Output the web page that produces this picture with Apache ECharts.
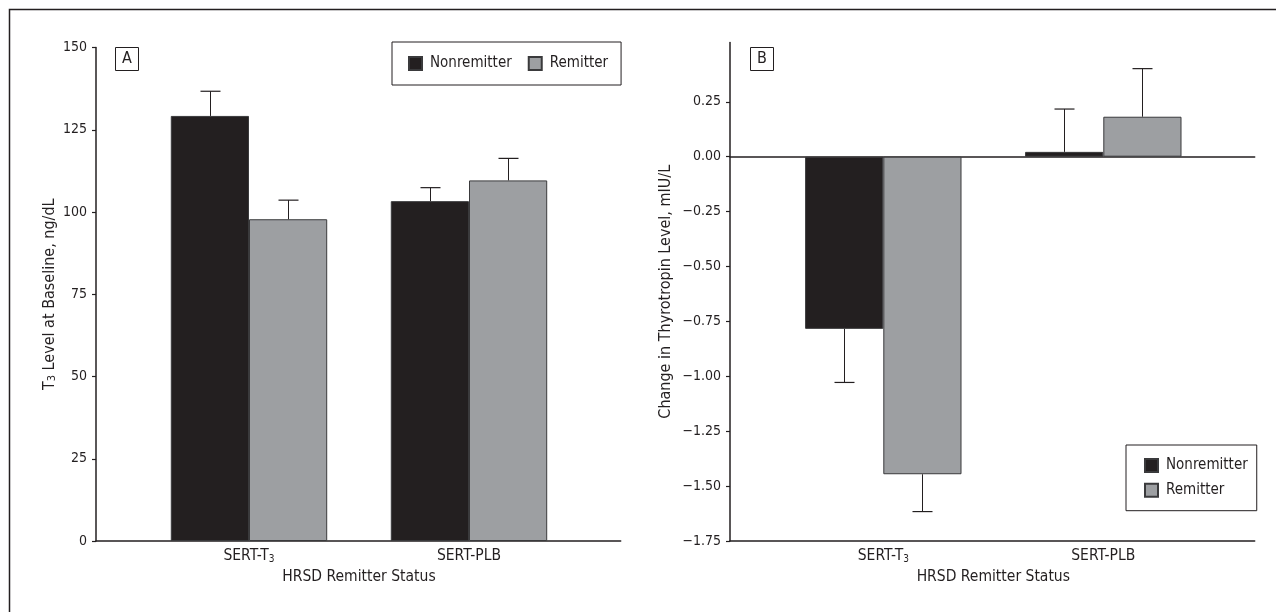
<!DOCTYPE html>
<html><head><meta charset="utf-8">
<script src="https://cdn.jsdelivr.net/npm/echarts@6/dist/echarts.min.js"></script>
<style>html,body{margin:0;padding:0;background:#fff}#c{width:1276px;height:612px}</style>
</head><body><div id="c"></div>
<script>
// ---- data ----
const categories = ['SERT-T3', 'SERT-PLB'];
const seriesNames = ['Nonremitter', 'Remitter'];
// Panel A: T3 level at baseline, ng/dL (mean and SE)
const t3Nonremitter = [129.2, 103.3];
const t3Remitter = [97.8, 109.6];
const t3NonremitterErr = [7.5, 4.1];
const t3RemitterErr = [5.8, 6.7];
// Panel B: change in thyrotropin level, mIU/L (mean and SE)
const tshNonremitter = [-0.784, 0.022];
const tshRemitter = [-1.446, 0.182];
const tshNonremitterErr = [0.244, 0.195];
const tshRemitterErr = [0.170, 0.219];
// tick labels
const t3Ticks = [0, 25, 50, 75, 100, 125, 150];
const tshTicks = [-1.75, -1.5, -1.25, -1, -0.75, -0.5, -0.25, 0, 0.25];

// ---- styling ----
const FONT = "'Liberation Sans Narrow','Arial Narrow','DejaVu Sans Condensed',sans-serif";
const INK = '#231f20';
const COLORS = ['#231f20', '#9d9fa2'];
const GAP = 0.289;

const rich = {
  n: {fontFamily: FONT, fontSize: 15.5, color: INK, lineHeight: 17},
  s: {fontFamily: FONT, fontSize: 10, color: INK, lineHeight: 7, verticalAlign: 'bottom'}
};
const richName = {
  n: {fontFamily: FONT, fontSize: 16, color: INK, lineHeight: 17},
  s: {fontFamily: FONT, fontSize: 11, color: INK, lineHeight: 7, verticalAlign: 'bottom'}
};
function catFmt(v) {
  return /T3$/.test(v) ? '{n|' + v.slice(0, -1) + '}{s|3}' : '{n|' + v + '}';
}
function tshFmt(v) {
  return (v < 0 ? '\u2212' : '') + Math.abs(v).toFixed(2);
}

function frameX(gridIndex, extra) {
  return Object.assign({
    gridIndex, type: 'value', min: 0, max: 1,
    axisLine: {show: true, onZero: false, lineStyle: {color: INK, width: 1.5}},
    axisTick: {show: false}, axisLabel: {show: false}, splitLine: {show: false}
  }, extra || {});
}
function barX(gridIndex) {
  return {
    gridIndex, type: 'category', data: categories,
    axisLine: {show: false}, axisTick: {show: false},
    axisLabel: {formatter: catFmt, rich, margin: 6},
    name: 'HRSD Remitter Status', nameLocation: 'middle', nameGap: 28,
    nameTextStyle: {fontFamily: FONT, fontSize: 15.5, color: INK}
  };
}
function hiddenY(gridIndex, min, max) {
  return {gridIndex, type: 'value', min, max, show: false, splitLine: {show: false}};
}

function errRender(sign) {
  return function (params, api) {
    const ci = api.value(0), v = api.value(1), e = api.value(2);
    const dir = v >= 0 ? 1 : -1;
    const p0 = api.coord([ci, v]);
    const p1 = api.coord([ci, v + dir * e]);
    const band = api.size([1, 0])[0];
    const bw = band * (1 - GAP) / 2;
    const x = Math.round(p0[0] + sign * bw / 2) + 0.5;
    const cap = 10;
    return {type: 'group', children: [
      {type: 'line', shape: {x1: x, y1: p0[1], x2: x, y2: p1[1]}, style: {stroke: INK, lineWidth: 1}},
      {type: 'line', shape: {x1: x - cap, y1: p1[1], x2: x + cap, y2: p1[1]}, style: {stroke: INK, lineWidth: 1.2}}
    ]};
  };
}
function bars(name, idx, xi, yi, values) {
  return {
    name, type: 'bar', xAxisIndex: xi, yAxisIndex: yi, data: values,
    barGap: '0%', barCategoryGap: (GAP * 100) + '%',
    itemStyle: {color: COLORS[idx], borderColor: '#3a3a3c', borderWidth: 1},
    emphasis: {disabled: true}, animation: false
  };
}
function errs(xi, yi, values, errors, sign) {
  return {
    type: 'custom', xAxisIndex: xi, yAxisIndex: yi, z: 5,
    data: values.map((v, i) => [i, v, errors[i]]),
    renderItem: errRender(sign), animation: false, silent: true
  };
}
const legendCommon = {
  data: seriesNames, icon: 'rect', itemWidth: 13, itemHeight: 13, selectedMode: false,
  borderColor: INK, borderWidth: 1,
  textStyle: {fontFamily: FONT, fontSize: 15, color: INK, lineHeight: 17, padding: [0, 0, 0, 3]}
};

const chart = echarts.init(document.getElementById('c'), null, {renderer: 'canvas'});
chart.setOption({
  backgroundColor: '#fff',
  animation: false,
  graphic: [{type: 'rect', shape: {x: 9.5, y: 9.5, width: 1400, height: 800},
    style: {fill: 'none', stroke: INK, lineWidth: 1.5}, silent: true}],
  title: [
    {text: 'A', left: 115, top: 47, padding: [3, 7, 3, 7], borderColor: INK, borderWidth: 1,
      textStyle: {fontFamily: FONT, fontSize: 16, fontWeight: 'normal', color: INK, lineHeight: 18}},
    {text: 'B', left: 750, top: 47, padding: [3, 7, 3, 7], borderColor: INK, borderWidth: 1,
      textStyle: {fontFamily: FONT, fontSize: 16, fontWeight: 'normal', color: INK, lineHeight: 18}}
  ],
  legend: [
    Object.assign({}, legendCommon, {orient: 'horizontal', left: 392, top: 42, padding: [13, 13, 13, 16], itemGap: 16}),
    Object.assign({}, legendCommon, {orient: 'vertical', left: 1126, top: 445, padding: [12, 9, 12, 18], itemGap: 7.7})
  ],
  grid: [
    {left: 96, top: 47.5, width: 524.7, height: 493.5},
    {left: 139, top: 47.5, width: 440, height: 493.5},
    {left: 730, top: 42.5, width: 524.7, height: 498.5},
    {left: 773.3, top: 42.5, width: 440, height: 498.5}
  ],
  xAxis: [
    frameX(0),
    barX(1),
    frameX(2),
    frameX(2, {position: 'top', axisLine: {show: true, onZero: true, lineStyle: {color: INK, width: 1.5}}}),
    barX(3)
  ],
  yAxis: [
    {gridIndex: 0, type: 'value', min: 0, max: 150, interval: 25,
      axisLine: {show: true, onZero: false, lineStyle: {color: INK, width: 1.5}},
      axisTick: {show: true, length: 4, lineStyle: {color: INK, width: 1.2}, customValues: t3Ticks},
      axisLabel: {fontFamily: FONT, fontSize: 14, color: INK, margin: 9, customValues: t3Ticks},
      splitLine: {show: false},
      name: '{n|T}{s|3}{n| Level at Baseline, ng/dL}', nameLocation: 'middle', nameGap: 38,
      nameTextStyle: {rich: richName}},
    hiddenY(1, 0, 150),
    {gridIndex: 2, type: 'value', min: -1.75, max: 0.52,
      axisLine: {show: true, onZero: false, lineStyle: {color: INK, width: 1.5}},
      axisTick: {show: true, length: 4, lineStyle: {color: INK, width: 1.2}, customValues: tshTicks},
      axisLabel: {fontFamily: FONT, fontSize: 14, color: INK, margin: 9, customValues: tshTicks, formatter: tshFmt},
      splitLine: {show: false},
      name: 'Change in Thyrotropin Level, mIU/L', nameLocation: 'middle', nameGap: 56,
      nameTextStyle: {fontFamily: FONT, fontSize: 16, color: INK}},
    hiddenY(3, -1.75, 0.52)
  ],
  series: [
    bars(seriesNames[0], 0, 1, 1, t3Nonremitter),
    bars(seriesNames[1], 1, 1, 1, t3Remitter),
    errs(1, 1, t3Nonremitter, t3NonremitterErr, -1),
    errs(1, 1, t3Remitter, t3RemitterErr, 1),
    bars(seriesNames[0], 0, 4, 3, tshNonremitter),
    bars(seriesNames[1], 1, 4, 3, tshRemitter),
    errs(4, 3, tshNonremitter, tshNonremitterErr, -1),
    errs(4, 3, tshRemitter, tshRemitterErr, 1)
  ]
});
</script>
</body></html>
